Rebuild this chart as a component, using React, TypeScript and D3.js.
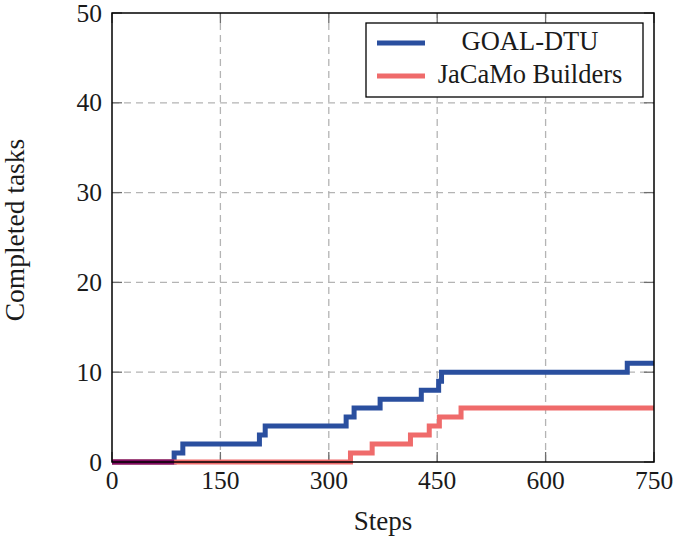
import React, { useRef, useEffect } from 'react';
import * as d3 from 'd3';

// step points: [step, completed tasks]
const goalSteps: [number, number][] = [
  [0, 0], [86, 1], [98, 2], [204, 3], [212, 4], [324, 5], [335, 6],
  [371, 7], [428, 8], [452, 9], [456, 10], [713, 11], [750, 11],
];
const jacamoSteps: [number, number][] = [
  [0, 0], [330, 1], [360, 2], [413, 3], [439, 4], [453, 5], [483, 6], [750, 6],
];
const seriesNames = ['GOAL-DTU', 'JaCaMo Builders'];
const seriesColors = ['#2a4f9f', '#ef6b6b'];
const overlapColor = '#800c62';
const xTicks = [0, 150, 300, 450, 600, 750];
const yTicks = [0, 10, 20, 30, 40, 50];

const W = 673;
const H = 537;
const FONT = '"Liberation Serif", "Times New Roman", serif';

export default function App() {
  const svgRef = useRef<SVGSVGElement>(null);

  useEffect(() => {
    const svg = d3.select(svgRef.current);
    svg.selectAll('*').remove();

    const m = { left: 112, right: 19, top: 13, bottom: 75 };
    const x = d3.scaleLinear().domain([0, 750]).range([m.left, W - m.right]);
    const y = d3.scaleLinear().domain([0, 50]).range([H - m.bottom, m.top]);
    const [x0, x1] = x.range();
    const [y0, y1] = y.range();

    svg.append('rect').attr('width', W).attr('height', H).attr('fill', '#fff');

    // Grid
    const grid = svg.append('g')
      .attr('stroke', '#b4b4b4')
      .attr('stroke-width', 1.3)
      .attr('stroke-dasharray', '7,5');
    xTicks.slice(1, -1).forEach(t => {
      grid.append('line').attr('x1', x(t)).attr('x2', x(t)).attr('y1', y0).attr('y2', y1);
    });
    yTicks.slice(1, -1).forEach(t => {
      grid.append('line').attr('x1', x0).attr('x2', x1).attr('y1', y(t)).attr('y2', y(t));
    });

    // Inward tick marks
    const ticks = svg.append('g').attr('stroke', '#6e6e6e').attr('stroke-width', 1.3);
    const tl = 10;
    xTicks.forEach(t => {
      ticks.append('line').attr('x1', x(t)).attr('x2', x(t)).attr('y1', y0).attr('y2', y0 - tl);
      ticks.append('line').attr('x1', x(t)).attr('x2', x(t)).attr('y1', y1).attr('y2', y1 + tl);
    });
    yTicks.forEach(t => {
      ticks.append('line').attr('x1', x0).attr('x2', x0 + tl).attr('y1', y(t)).attr('y2', y(t));
      ticks.append('line').attr('x1', x1).attr('x2', x1 - tl).attr('y1', y(t)).attr('y2', y(t));
    });

    // Lines
    const line = d3.line<[number, number]>()
      .x(d => x(d[0]))
      .y(d => y(d[1]))
      .curve(d3.curveStepAfter);

    [goalSteps, jacamoSteps].forEach((data, i) => {
      svg.append('path')
        .attr('d', line(data))
        .attr('fill', 'none')
        .attr('stroke', seriesColors[i])
        .attr('stroke-width', 5)
        .attr('stroke-linejoin', 'miter');
    });

    // where both series run together at the start, the strokes blend
    const firstRise = Math.min(
      goalSteps.find(d => d[1] > 0)![0],
      jacamoSteps.find(d => d[1] > 0)![0]
    );
    svg.append('path')
      .attr('d', line([[0, 0], [firstRise, 0]]))
      .attr('fill', 'none')
      .attr('stroke', overlapColor)
      .attr('stroke-width', 5);

    // Frame
    svg.append('rect')
      .attr('x', x0).attr('y', y1)
      .attr('width', x1 - x0).attr('height', y0 - y1)
      .attr('fill', 'none')
      .attr('stroke', '#000')
      .attr('stroke-width', 1.5);

    // Tick labels
    const labels = svg.append('g')
      .attr('font-family', FONT)
      .attr('font-size', 25.5)
      .attr('fill', '#1a1a1a');
    xTicks.forEach(t => {
      labels.append('text')
        .attr('x', x(t)).attr('y', y0 + 27)
        .attr('text-anchor', 'middle')
        .text(t);
    });
    yTicks.forEach(t => {
      labels.append('text')
        .attr('x', x0 - 10).attr('y', y(t))
        .attr('dy', '0.34em')
        .attr('text-anchor', 'end')
        .text(t);
    });

    // Axis titles
    svg.append('text')
      .attr('x', (x0 + x1) / 2).attr('y', 530)
      .attr('text-anchor', 'middle')
      .attr('font-family', FONT)
      .attr('font-size', 27)
      .attr('fill', '#1a1a1a')
      .text('Steps');
    svg.append('text')
      .attr('transform', `translate(24, 230) rotate(-90)`)
      .attr('text-anchor', 'middle')
      .attr('font-family', FONT)
      .attr('font-size', 27.5)
      .attr('fill', '#1a1a1a')
      .text('Completed tasks');

    // Legend
    const lg = svg.append('g').attr('transform', 'translate(366, 23)');
    lg.append('rect')
      .attr('width', 277).attr('height', 74)
      .attr('fill', '#fff')
      .attr('stroke', '#000')
      .attr('stroke-width', 1.3);
    seriesNames.forEach((name, i) => {
      const cy = 20 + i * 33;
      lg.append('line')
        .attr('x1', 11).attr('x2', 59)
        .attr('y1', cy).attr('y2', cy)
        .attr('stroke', seriesColors[i])
        .attr('stroke-width', 5);
      lg.append('text')
        .attr('x', 164).attr('y', cy + 7)
        .attr('text-anchor', 'middle')
        .attr('font-family', FONT)
        .attr('font-size', 26.5)
        .attr('fill', '#1a1a1a')
        .text(name);
    });
  }, []);

  return (
    <svg
      ref={svgRef}
      width={W}
      height={H}
      style={{ position: 'absolute', left: 0, top: 0, display: 'block' }}
    />
  );
}
